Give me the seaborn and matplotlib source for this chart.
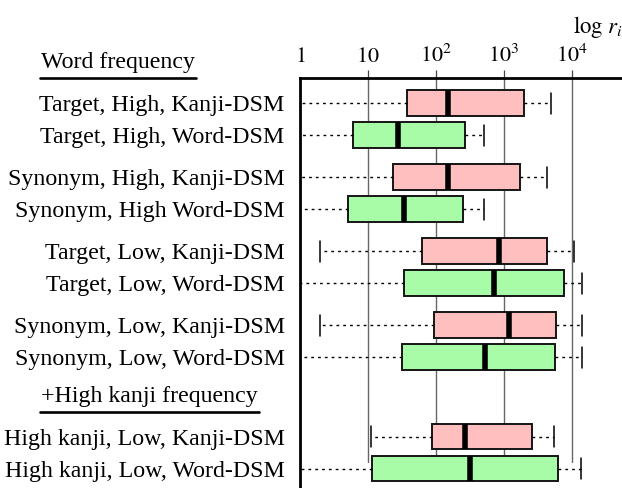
import numpy as np
import pandas as pd
import matplotlib
matplotlib.use("Agg")
import matplotlib.pyplot as plt
import seaborn as sns
from matplotlib.lines import Line2D
from matplotlib.ticker import NullLocator

# ---------------- data ----------------
labels = [
    "Target, High, Kanji-DSM",
    "Target, High, Word-DSM",
    "Synonym, High, Kanji-DSM",
    "Synonym, High Word-DSM",
    "Target, Low, Kanji-DSM",
    "Target, Low, Word-DSM",
    "Synonym, Low, Kanji-DSM",
    "Synonym, Low, Word-DSM",
    "High kanji, Low, Kanji-DSM",
    "High kanji, Low, Word-DSM",
]
models = ["Kanji-DSM", "Word-DSM"] * 5
r_min = [1, 1, 1, 1, 2.0, 1, 2.0, 1, 11, 1]
r_q1 = [37, 6.1, 23, 5.1, 63, 34, 92, 32, 86, 11.3]
r_med = [150, 28, 150, 34, 840, 710, 1190, 525, 270, 320]
r_q3 = [1990, 267, 1720, 252, 4330, 7700, 5760, 5560, 2550, 6170]
r_max = [4900, 513, 4250, 510, 10700, 13900, 14200, 13900, 5440, 13600]

header_1 = "Word frequency"
header_2 = "+High kanji frequency"
tick_values = [1, 10, 100, 1000, 10000]
tick_labels = ["$1$", "$10$", "$10^2$", "$10^3$", "$10^4$"]
axis_title = r"$\log\,r_i$"

# ---------------- layout (pixel rows from top) ----------------
row_pos = [103, 135, 177, 209, 251, 283, 325, 357, 436.5, 468.5]

records = []
for i in range(len(labels)):
    for v in (r_min[i], r_q1[i], r_med[i], r_q3[i], r_max[i]):
        records.append({"row": row_pos[i], "model": models[i], "r": v})
df = pd.DataFrame(records)

sns.set_theme(style="white")
plt.rcParams["font.family"] = ["Liberation Serif", "DejaVu Serif"]
plt.rcParams["mathtext.fontset"] = "stix"
plt.rcParams["text.color"] = "black"
plt.rcParams["xtick.color"] = "black"
plt.rcParams["ytick.color"] = "black"

W, H = 622, 488
LABEL_FS = 17.2
fig = plt.figure(figsize=(W / 100, H / 100), dpi=100)
ax = fig.add_axes([300 / W, 0, 1 - 300 / W, (H - 77.5) / H])

palette = {"Kanji-DSM": "#ffbfbf", "Word-DSM": "#a8fca8"}

sns.boxplot(
    data=df, x="r", y="row", hue="model", orient="y",
    native_scale=True, log_scale=(True, False), dodge=False,
    width=0.8, whis=(0, 100), saturation=1, palette=palette,
    linecolor="#151515", linewidth=1.4, legend=False, ax=ax,
    medianprops=dict(color="black", linewidth=4.0),
    whiskerprops=dict(color="black", linewidth=1, linestyle=(0, (2.0, 2.9))),
    capprops=dict(color="black", linewidth=1.1),
    capwidths=21,
)

ax.set_ylim(H, 77.5)
ax.set_xlim(1, 10 ** (322 / 68))

# grid lines
for v in tick_values[1:]:
    ax.axvline(v, ymin=(H - 462) / (H - 77.5), ymax=1, color="#666666",
               linewidth=1.0, zorder=0.5)

# spines
for s in ["right", "bottom"]:
    ax.spines[s].set_visible(False)
for s in ["top", "left"]:
    ax.spines[s].set_visible(True)
    ax.spines[s].set_linewidth(2.0)
    ax.spines[s].set_color("black")

ax.xaxis.set_ticks_position("top")
ax.set_xticks(tick_values)
ax.set_xticklabels(tick_labels)
ax.xaxis.set_minor_locator(NullLocator())
ax.tick_params(axis="x", direction="out", length=5.8, width=0.9,
               color="#444444", pad=2, labelsize=16, labelcolor="black")
first = ax.xaxis.get_major_ticks()[0]
first.tick1line.set_visible(False)
first.tick2line.set_visible(False)
ax.set_yticks(row_pos)
ax.set_yticklabels(labels)
ax.tick_params(axis="y", length=0, pad=11, labelsize=LABEL_FS, labelcolor="black")
ax.set_xlabel("")
ax.set_ylabel("")
ax.grid(False)

fig.text(573 / W, 1 - 33 / H, axis_title, fontsize=16.5, ha="left", va="baseline")

# headers with underline
renderer = fig.canvas.get_renderer()
for txt, base, gap in [(header_1, 68, 9.5), (header_2, 402, 10)]:
    t = fig.text(41 / W, 1 - base / H, txt, fontsize=LABEL_FS, ha="left",
                 va="baseline", color="black")
    ext = t.get_window_extent(renderer=renderer)
    y = (H - base - gap) / H
    fig.add_artist(Line2D([(ext.x0 - 1) / W, (ext.x1 + 1) / W], [y, y],
                          transform=fig.transFigure, color="black", linewidth=1.9))

fig.savefig("out.png", dpi=100)
